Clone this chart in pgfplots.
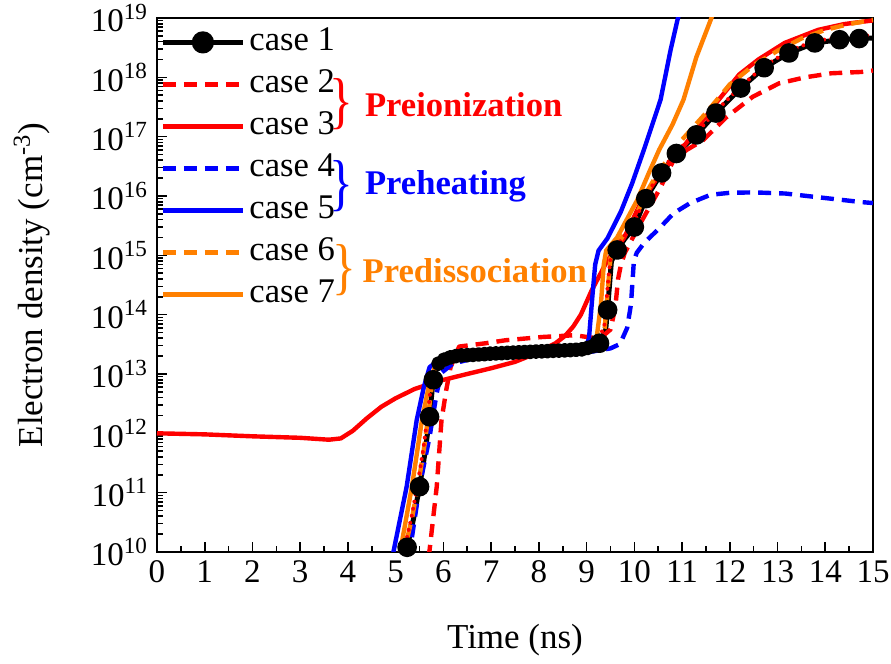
\documentclass[border=0pt]{standalone}
\usepackage{fontspec}
\IfFontExistsTF{LiberationSerif-Regular.ttf}{%
  \setmainfont{LiberationSerif}[Extension=.ttf, UprightFont=*-Regular, BoldFont=*-Bold, ItalicFont=*-Italic, BoldItalicFont=*-BoldItalic]}{%
  \setmainfont{Liberation Serif}}
\usepackage{pgfplots}
\pgfplotsset{compat=1.18}
\definecolor{myred}{RGB}{255,0,0}
\definecolor{myblue}{RGB}{0,0,255}
\definecolor{myorange}{RGB}{255,128,0}
\newcommand{\fs}{\fontsize{16.5}{19}\selectfont}
\begin{document}
\begin{tikzpicture}
\begin{axis}[
  scale only axis, width=358pt, height=267pt,
  xmin=0, xmax=15, ymin=1e10, ymax=1e19, ymode=log, log basis y=10,
  xtick={0,1,...,15}, minor x tick num=1,
  ytick={1e10,1e11,1e12,1e13,1e14,1e15,1e16,1e17,1e18,1e19},
  yticklabels={10\textsuperscript{10},10\textsuperscript{11},10\textsuperscript{12},10\textsuperscript{13},10\textsuperscript{14},10\textsuperscript{15},10\textsuperscript{16},10\textsuperscript{17},10\textsuperscript{18},10\textsuperscript{19}},
  minor ytick={2e10,3e10,4e10,5e10,6e10,7e10,8e10,9e10,
    2e11,3e11,4e11,5e11,6e11,7e11,8e11,9e11,
    2e12,3e12,4e12,5e12,6e12,7e12,8e12,9e12,
    2e13,3e13,4e13,5e13,6e13,7e13,8e13,9e13,
    2e14,3e14,4e14,5e14,6e14,7e14,8e14,9e14,
    2e15,3e15,4e15,5e15,6e15,7e15,8e15,9e15,
    2e16,3e16,4e16,5e16,6e16,7e16,8e16,9e16,
    2e17,3e17,4e17,5e17,6e17,7e17,8e17,9e17,
    2e18,3e18,4e18,5e18,6e18,7e18,8e18,9e18},
  tick align=inside, xtick pos=bottom, ytick pos=left,
  major tick length=5pt, minor tick length=3pt,
  every tick/.style={black, line width=0.8pt},
  axis line style={line width=1pt},
  tick label style={font=\fs},
  label style={font=\fontsize{17.5}{20}\selectfont},
  xticklabel style={/pgf/number format/assume math mode=true, yshift=-1pt},
  yticklabel style={xshift=-1pt},
  xlabel={Time (ns)}, ylabel={Electron density (cm\textsuperscript{-3})},
  xlabel style={at={(axis description cs:0.5,-0.165)}, anchor=center},
  ylabel style={at={(axis description cs:-0.175,0.5)}, anchor=center},
  every axis plot/.append style={line width=2.2pt, line join=round},
  legend style={at={(axis description cs:0,1)}, anchor=north west, yshift=-4pt,
    draw=none, fill=none, font=\fontsize{17.3}{20}\selectfont, inner xsep=1.5pt, inner ysep=0pt, row sep=5pt,
    nodes={inner ysep=0pt, inner xsep=2pt, text height=12pt, text depth=4pt}},
  legend cell align=left,
  legend image code/.code={\draw[mark repeat=2,mark phase=2,#1] plot coordinates {(0pt,0pt) (20pt,0pt) (40pt,0pt)};},
]
% case 1 (black line)
\addplot[black, line width=2.5pt, forget plot] coordinates {
(5.18,8e9) (5.24,1.2e10) (5.37,3.5e10) (5.5,1.26e11) (5.62,5.0e11) (5.71,1.9e12) (5.77,6.0e12) (5.83,1.15e13) (5.95,1.6e13) (6.2,2.0e13) (6.6,2.1e13) (7.0,2.2e13) (7.5,2.3e13) (8.0,2.4e13) (8.5,2.5e13) (8.9,2.6e13) (9.1,2.9e13) (9.27,3.3e13) (9.4,5.5e13) (9.46,2.0e14) (9.52,8.0e14) (9.64,1.23e15) (9.8,1.9e15) (10.0,3.0e15) (10.24,9.0e15) (10.57,2.45e16) (10.88,5.2e16) (11.3,1.07e17) (11.71,2.5e17) (12.23,6.6e17) (12.72,1.45e18) (13.24,2.57e18) (13.78,3.8e18) (14.3,4.3e18) (14.71,4.5e18) (15,4.6e18)};
% case 1 markers
\addplot[black, only marks, mark=*, mark size=3.8pt, forget plot] coordinates {
(5.24,1.2e10) (5.5,1.26e11) (5.71,1.9e12) (5.79,8.0e12) (9.27,3.3e13) (9.44,1.2e14) (9.64,1.23e15) (10.0,3.0e15) (10.24,9.0e15) (10.57,2.45e16) (10.88,5.2e16) (11.3,1.07e17) (11.71,2.5e17) (12.23,6.6e17) (12.72,1.45e18) (13.24,2.57e18) (13.78,3.8e18) (14.3,4.3e18) (14.71,4.5e18)};
\addplot[black, only marks, mark=*, mark size=2.6pt, forget plot] coordinates {
(5.9,1.5e13) (6.02,1.75e13) (6.14,1.9e13) (6.26,2.0e13) (6.38,2.05e13) (6.5,2.08e13) (6.62,2.1e13) (6.74,2.13e13) (6.86,2.16e13) (6.98,2.2e13) (7.1,2.22e13) (7.22,2.24e13) (7.34,2.27e13) (7.46,2.29e13) (7.58,2.32e13) (7.7,2.34e13) (7.82,2.36e13) (7.94,2.39e13) (8.06,2.41e13) (8.18,2.43e13) (8.3,2.46e13) (8.42,2.48e13) (8.54,2.5e13) (8.66,2.53e13) (8.78,2.56e13) (8.9,2.6e13) (9.02,2.75e13) (9.14,2.95e13)};
% case 2 (red dashed)
\addplot[myred, dash pattern=on 6.5pt off 4pt, forget plot] coordinates {
(5.68,8e9) (5.71,1.07e10) (5.86,1.26e11) (5.96,1.66e12) (6.06,5.4e12) (6.15,1.3e13) (6.33,2.9e13) (6.89,3.3e13) (7.3,3.7e13) (8.07,4.2e13) (8.75,4.5e13) (9.1,4.1e13) (9.3,4.1e13) (9.5,5.6e13) (9.6,1.3e14) (9.66,4.0e14) (9.72,7.0e14) (9.8,1.1e15) (10.13,3.5e15) (10.55,1.4e16) (10.82,4.0e16) (11.1,6.0e16) (11.44,8.7e16) (11.92,2.1e17) (12.48,4.7e17) (13.03,7.9e17) (13.58,1.0e18) (14.13,1.17e18) (14.75,1.23e18) (15,1.3e18)};
% case 3 (red solid)
\addplot[myred, forget plot] coordinates {
(0,1.0e12) (1,9.6e11) (2,8.9e11) (3,8.4e11) (3.6,7.8e11) (3.85,8.2e11) (4.1,1.1e12) (4.4,1.8e12) (4.7,2.8e12) (5.0,3.9e12) (5.4,5.6e12) (5.9,7.6e12) (6.5,1.0e13) (7.0,1.25e13) (7.5,1.6e13) (7.8,2.0e13) (8.1,2.6e13) (8.35,3.3e13) (8.55,4.4e13) (8.72,6.3e13) (8.88,1.0e14) (9.1,2.5e14) (9.44,8.3e14) (9.79,2.0e15) (10.13,7.6e15) (10.55,2.45e16) (11.05,7.1e16) (11.65,3.2e17) (12.2,1.12e18) (12.6,2.0e18) (13.15,3.8e18) (13.85,6.3e18) (14.4,7.9e18) (15,9.1e18)};
% case 4 (blue dashed)
\addplot[myblue, dash pattern=on 6.5pt off 4pt, forget plot] coordinates {
(5.25,8e9) (5.3,1.07e10) (5.5,1.26e11) (5.71,8.7e11) (5.86,4.8e12) (5.96,1.05e13) (6.2,1.5e13) (6.6,1.8e13) (7.5,2.0e13) (8.5,2.15e13) (9.0,2.3e13) (9.5,2.7e13) (9.7,3.2e13) (9.85,6.0e13) (9.93,1.5e14) (9.99,8e14) (10.05,1.1e15) (10.2,1.6e15) (10.55,3.0e15) (10.82,5.1e15) (11.17,7.6e15) (11.6,1.05e16) (12.0,1.13e16) (12.5,1.15e16) (13.16,1.1e16) (13.86,9.5e15) (14.75,7.9e15) (15,7.6e15)};
% case 5 (blue solid)
\addplot[myblue, forget plot] coordinates {
(4.93,8e9) (4.96,1.07e10) (5.23,1.26e11) (5.44,1.66e12) (5.59,6.0e12) (5.71,1.3e13) (5.92,1.75e13) (6.5,1.95e13) (7.5,2.1e13) (8.5,2.25e13) (8.95,2.4e13) (9.05,4e13) (9.12,2e14) (9.18,7e14) (9.25,1.2e15) (9.44,1.95e15) (9.72,5.5e15) (9.95,1.6e16) (10.2,6.0e16) (10.55,4.2e17) (10.76,2.9e18) (10.9,9e18) (10.95,1.3e19)};
% case 6 (orange dashed)
\addplot[myorange, dash pattern=on 6.5pt off 4pt, forget plot] coordinates {
(5.15,8e9) (5.2,1.2e10) (5.35,4e10) (5.48,1.5e11) (5.6,6e11) (5.69,2.2e12) (5.76,7e12) (5.82,1.3e13) (5.95,1.75e13) (6.2,2.05e13) (7,2.25e13) (8,2.45e13) (8.9,2.65e13) (9.1,3.0e13) (9.27,3.5e13) (9.38,6e13) (9.45,3e14) (9.5,9e14) (9.62,1.4e15) (9.8,2.4e15) (10.0,4.0e15) (10.24,1.1e16) (10.5,2.5e16) (11.0,8.9e16) (11.5,2.5e17) (12.0,7.6e17) (12.5,1.6e18) (13.0,2.8e18) (13.5,4.5e18) (14.0,6.3e18) (14.5,7.9e18) (15,9.3e18)};
% case 7 (orange solid)
\addplot[myorange, forget plot] coordinates {
(5.07,8e9) (5.1,1.07e10) (5.34,1.26e11) (5.55,1.66e12) (5.69,6.0e12) (5.82,1.3e13) (6.06,1.75e13) (6.5,2.0e13) (7.5,2.2e13) (8.5,2.4e13) (9.0,2.6e13) (9.2,3.5e13) (9.3,1.5e14) (9.36,7e14) (9.41,1.2e15) (9.64,2.0e15) (10.06,8.5e15) (10.3,2.4e16) (10.52,6.0e16) (10.8,1.6e17) (11.03,4.2e17) (11.3,2.2e18) (11.6,9.3e18) (11.65,1.2e19)};
% unlabeled red dotted
\addplot[myred, line width=2pt, line cap=round, dash pattern=on 0pt off 3.6pt, forget plot] coordinates {
(5.12,8e9) (5.2,1.3e10) (5.33,3.8e10) (5.46,1.4e11) (5.58,5.5e11) (5.67,2.0e12) (5.74,6.5e12) (5.8,1.2e13) (5.95,1.8e13) (6.2,2.1e13) (6.6,2.2e13) (7,2.3e13) (7.5,2.4e13) (8,2.5e13) (8.5,2.6e13) (8.9,2.7e13) (9.1,3.0e13) (9.25,3.6e13) (9.38,7e13) (9.44,3e14) (9.5,9e14) (9.62,1.4e15) (9.8,2.2e15) (10.0,3.6e15) (10.24,1.0e16) (10.57,2.7e16) (10.88,5.6e16) (11.3,1.15e17) (11.71,2.7e17) (12.23,7.0e17) (12.72,1.55e18) (13.24,2.8e18) (13.78,4.1e18) (14.3,4.7e18) (14.71,5.0e18) (15,5.1e18)};
% legend
\addlegendimage{black, line width=2.5pt, mark=*, mark size=4.3pt}
\addlegendentry{case 1}
\addlegendimage{myred, line width=2.5pt, dash pattern=on 6.5pt off 4pt}
\addlegendentry{case 2}
\addlegendimage{myred, line width=2.5pt}
\addlegendentry{case 3}
\addlegendimage{myblue, line width=2.5pt, dash pattern=on 6.5pt off 4pt}
\addlegendentry{case 4}
\addlegendimage{myblue, line width=2.5pt}
\addlegendentry{case 5}
\addlegendimage{myorange, line width=2.5pt, dash pattern=on 6.5pt off 4pt}
\addlegendentry{case 6}
\addlegendimage{myorange, line width=2.5pt}
\addlegendentry{case 7}
% group labels
\node[text=myred, font=\fontsize{31}{31}\selectfont, inner sep=0pt] at (axis cs:3.87,3.5e17) {\scalebox{0.8}[1]{\}}};
\node[text=myred, font=\bfseries\fontsize{17.3}{20}\selectfont, anchor=west, inner sep=0pt] at (axis cs:4.35,3.5e17) {Preionization};
\node[text=myblue, font=\fontsize{31}{31}\selectfont, inner sep=0pt] at (axis cs:3.87,1.45e16) {\scalebox{0.8}[1]{\}}};
\node[text=myblue, font=\bfseries\fontsize{17.3}{20}\selectfont, anchor=west, inner sep=0pt] at (axis cs:4.35,1.45e16) {Preheating};
\node[text=myorange, font=\fontsize{31}{31}\selectfont, inner sep=0pt] at (axis cs:3.92,5.6e14) {\scalebox{0.8}[1]{\}}};
\node[text=myorange, font=\bfseries\fontsize{17.3}{20}\selectfont, anchor=west, inner sep=0pt] at (axis cs:4.3,5.6e14) {Predissociation};
\end{axis}
\pgfresetboundingbox
\path[use as bounding box] ([xshift=-78.5pt,yshift=-56pt]current axis.south west) rectangle ([xshift=9pt,yshift=9pt]current axis.north east);
\end{tikzpicture}
\end{document}
